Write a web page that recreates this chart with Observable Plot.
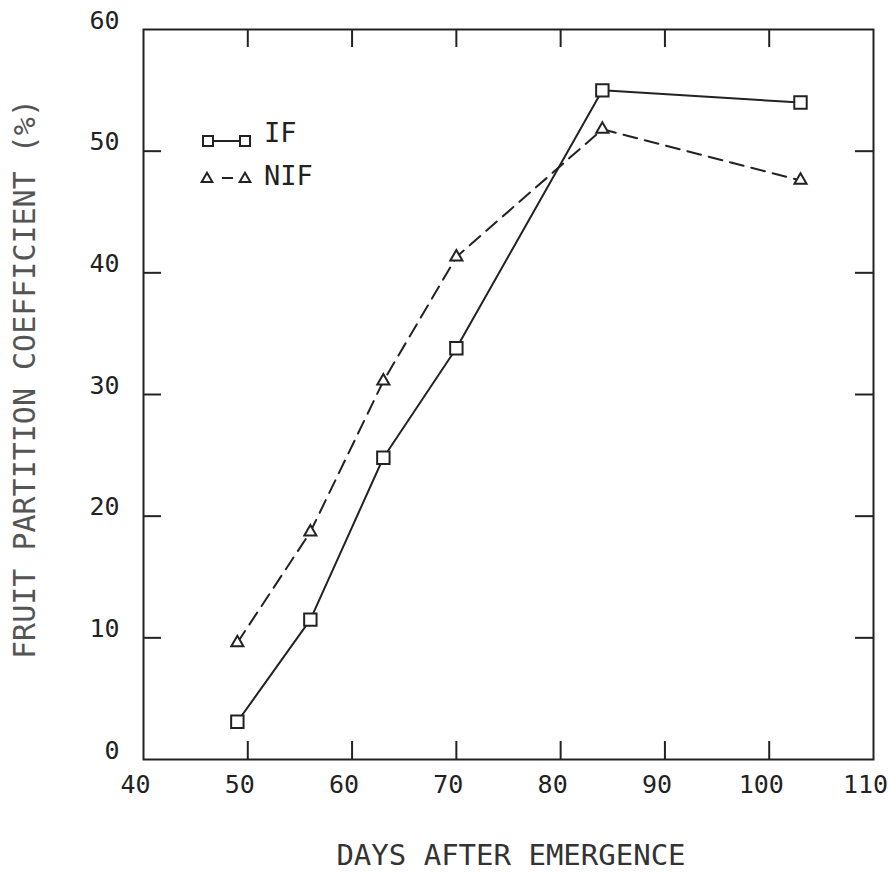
<!DOCTYPE html>
<html>
<head>
<meta charset="utf-8">
<script src="https://cdn.jsdelivr.net/npm/d3@7"></script>
<script src="https://cdn.jsdelivr.net/npm/@observablehq/plot@0.6"></script>
<style>
  html, body { margin: 0; padding: 0; background: #fff; }
  #chart { width: 888px; height: 872px; }
</style>
</head>
<body>
<div id="chart"></div>
<script>
// ---- data ----
const days = [49, 56, 63, 70, 84, 103];
const ifValues = [3.1, 11.5, 24.8, 33.8, 55.0, 54.0];
const nifValues = [9.6, 18.7, 31.1, 41.3, 51.8, 47.6];
const seriesNames = ["IF", "NIF"];
const xTicks = [40, 50, 60, 70, 80, 90, 100, 110];
const yTicks = [0, 10, 20, 30, 40, 50, 60];
const xTitle = "DAYS AFTER EMERGENCE";
const yTitle = "FRUIT PARTITION COEFFICIENT (%)";

const ifData = days.map((d, i) => ({day: d, value: ifValues[i]}));
const nifData = days.map((d, i) => ({day: d, value: nifValues[i]}));

const W = 888, H = 872;
const mL = 143, mR = 15, mT = 29, mB = 113;
const plotW = W - mL - mR, plotH = H - mT - mB;
const tickLen = 18;
const ink = "#222";
const xInner = xTicks.slice(1, -1);
const yInner = yTicks.slice(1, -1);

const chart = Plot.plot({
  width: W,
  height: H,
  marginLeft: mL,
  marginRight: mR,
  marginTop: mT,
  marginBottom: mB,
  style: {fontFamily: "'DejaVu Sans Mono', monospace", fontSize: "25px", color: ink, background: "#fff"},
  x: {domain: [40, 110]},
  y: {domain: [0, 60]},
  marks: [
    Plot.axisX({ticks: xTicks, tickSize: 0, tickPadding: 16, dx: -8, tickFormat: d => String(d), label: null, fill: ink}),
    Plot.axisY({ticks: yTicks, tickSize: 0, tickPadding: 24, dy: -9, tickFormat: d => String(d), label: null, fill: ink}),
    Plot.frame({stroke: ink, strokeWidth: 2}),
    // inward ticks on all four sides
    Plot.ruleX(xInner, {x: d => d, insetTop: plotH - tickLen, stroke: ink, strokeWidth: 2}),
    Plot.ruleX(xInner, {x: d => d, insetBottom: plotH - tickLen, stroke: ink, strokeWidth: 2}),
    Plot.ruleY(yInner, {y: d => d, insetRight: plotW - tickLen, stroke: ink, strokeWidth: 2}),
    Plot.ruleY(yInner, {y: d => d, insetLeft: plotW - tickLen, stroke: ink, strokeWidth: 2}),
    // series
    Plot.line(ifData, {x: "day", y: "value", stroke: ink, strokeWidth: 2}),
    Plot.line(nifData, {x: "day", y: "value", stroke: ink, strokeWidth: 2, strokeDasharray: "14,8"}),
    Plot.dot(ifData, {x: "day", y: "value", symbol: "square", r: 7, stroke: ink, strokeWidth: 2, fill: "white"}),
    Plot.dot(nifData, {x: "day", y: "value", symbol: "triangle", r: 4.5, stroke: ink, strokeWidth: 2, fill: "white"})
  ]
});

document.getElementById("chart").appendChild(chart);

// ---- titles and legend ----
const svg = d3.select(chart);
svg.append("text")
  .attr("x", 511).attr("y", 865)
  .attr("text-anchor", "middle")
  .attr("font-family", "'DejaVu Sans Mono', monospace")
  .attr("font-size", 29)
  .attr("fill", "#333")
  .text(xTitle);
svg.append("text")
  .attr("transform", "translate(35,379) rotate(-90)")
  .attr("text-anchor", "middle")
  .attr("font-family", "'DejaVu Sans Mono', monospace")
  .attr("font-size", 30)
  .attr("fill", "#555")
  .text(yTitle);

const leg = svg.append("g").attr("stroke", ink).attr("stroke-width", 2).attr("fill", "white");
// IF entry
leg.append("line").attr("x1", 208).attr("x2", 245).attr("y1", 141).attr("y2", 141);
const sq = d3.symbol(d3.symbolSquare, 100);
leg.append("path").attr("d", sq()).attr("transform", "translate(208,141)");
leg.append("path").attr("d", sq()).attr("transform", "translate(245,141)");
// NIF entry
leg.append("line").attr("x1", 222).attr("x2", 233).attr("y1", 178).attr("y2", 178);
const tri = d3.symbol(d3.symbolTriangle, 50);
leg.append("path").attr("d", tri()).attr("transform", "translate(207,179)");
leg.append("path").attr("d", tri()).attr("transform", "translate(245,179)");

svg.append("g")
  .attr("font-family", "'DejaVu Sans Mono', monospace")
  .attr("font-size", 27)
  .attr("fill", ink)
  .attr("text-anchor", "start")
  .selectAll("text")
  .data(seriesNames)
  .join("text")
  .attr("x", 264)
  .attr("y", (d, i) => 142 + i * 43)
  .text(d => d);
</script>
</body>
</html>
